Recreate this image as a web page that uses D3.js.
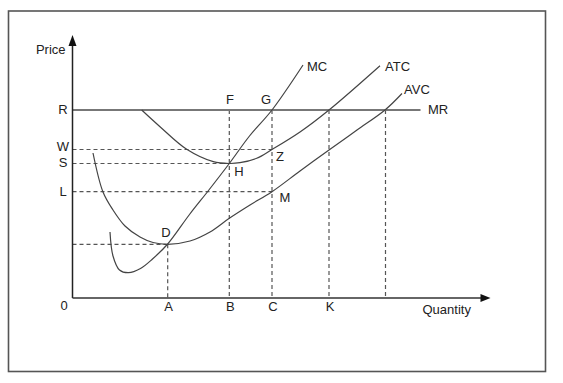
<!DOCTYPE html>
<html>
<head>
<meta charset="utf-8">
<script src="https://cdn.jsdelivr.net/npm/d3@7"></script>
<style>
  body { margin: 0; background: #fff; }
  text { font-family: "Liberation Sans", Arial, sans-serif; fill: #222; }
</style>
</head>
<body>
<svg id="chart" width="563" height="383"></svg>
<script>
// values (quantity / price units)
const qTicks = [
  { label: "A", q: 95.2 },
  { label: "B", q: 156.8 },
  { label: "C", q: 199.5 },
  { label: "K", q: 256.5 },
  { label: "", q: 313 },
];
const pTicks = [
  { label: "R", p: 188 },
  { label: "W", p: 148.5 },
  { label: "S", p: 134.5 },
  { label: "L", p: 106.3 },
  { label: "", p: 53.7 },
];
const mcPoints = [
  [37.5, 66], [40.5, 42], [47, 28], [56, 25.3], [68, 29.5], [80, 39],
  [95.2, 54], [117, 83.5], [136, 107.5], [156.8, 134.5], [177, 162],
  [199.5, 188], [230.5, 233],
];
const avcPoints = [
  [20.5, 145], [30.5, 106], [40.5, 88], [52.5, 72], [67.5, 61], [80.5, 55.5],
  [95.2, 53.7], [117.5, 57], [137.5, 66], [156.8, 79.7], [177.5, 93],
  [199.5, 106.3], [227.5, 127], [256.5, 148], [284.5, 168], [312.5, 188],
  [329.5, 204.5],
];
const atcPoints = [
  [69.2, 188], [87.5, 171.3], [114.2, 148.7], [140.8, 136.3], [156.8, 134.5],
  [167.5, 135.3], [184.2, 139.7], [199.5, 148.5], [227.5, 166], [256.5, 188],
  [307.5, 232.3],
];
const mrPrice = 188;
const mrEnd = 348;
const pointLabels = [
  { text: "D", q: 93.5, p: 64 },
  { text: "F", q: 157.5, p: 197 },
  { text: "G", q: 193.5, p: 197 },
  { text: "Z", q: 207.5, p: 140 },
  { text: "H", q: 166.5, p: 125 },
  { text: "M", q: 212.5, p: 99 },
];
const curveLabels = [
  { text: "MC", q: 234.5, p: 230 },
  { text: "ATC", q: 312.5, p: 230 },
  { text: "AVC", q: 331.5, p: 207 },
  { text: "MR", q: 355.5, p: 187 },
];

const svg = d3.select("#chart");
const x = d3.scaleLinear().domain([0, 420]).range([72.5, 492.5]);
const y = d3.scaleLinear().domain([0, 263]).range([298, 35]);

// frame
svg.append("rect")
  .attr("x", 8.5).attr("y", 11)
  .attr("width", 537).attr("height", 360.5)
  .attr("fill", "none")
  .attr("stroke", "#555")
  .attr("stroke-width", 1.6);

const dash = "4,3";
const dashColor = "#555";

// dashed guides
svg.selectAll(".vguide")
  .data(qTicks)
  .join("line")
  .attr("class", "vguide")
  .attr("x1", (d) => x(d.q)).attr("x2", (d) => x(d.q))
  .attr("y1", (d) => (d.label === "A" ? y(53.7) : y(mrPrice)))
  .attr("y2", y(0))
  .attr("stroke", dashColor)
  .attr("stroke-width", 1.2)
  .attr("stroke-dasharray", dash);

const hEnds = { R: null, W: 199.5, S: 156.8, L: 199.5, "": 95.2 };
svg.selectAll(".hguide")
  .data(pTicks.filter((d) => d.label !== "R"))
  .join("line")
  .attr("class", "hguide")
  .attr("x1", x(0)).attr("x2", (d) => x(hEnds[d.label]))
  .attr("y1", (d) => y(d.p)).attr("y2", (d) => y(d.p))
  .attr("stroke", dashColor)
  .attr("stroke-width", 1.2)
  .attr("stroke-dasharray", dash);

// MR line
svg.append("line")
  .attr("x1", x(0)).attr("x2", x(mrEnd))
  .attr("y1", y(mrPrice)).attr("y2", y(mrPrice))
  .attr("stroke", "#777")
  .attr("stroke-width", 2);

// cost curves
const line = d3.line()
  .x((d) => x(d[0]))
  .y((d) => y(d[1]))
  .curve(d3.curveCatmullRom.alpha(0.5));

[mcPoints, avcPoints, atcPoints].forEach((pts) => {
  svg.append("path")
    .attr("d", line(pts))
    .attr("fill", "none")
    .attr("stroke", "#444")
    .attr("stroke-width", 1.2);
});

// axes
svg.append("line")
  .attr("x1", x(0)).attr("x2", x(0))
  .attr("y1", y(0)).attr("y2", y(258))
  .attr("stroke", "#222").attr("stroke-width", 1.5);
svg.append("path")
  .attr("d", `M${x(0)},${y(263)} L${x(0) - 4},${y(252)} L${x(0) + 4},${y(252)} Z`)
  .attr("fill", "#111");
svg.append("line")
  .attr("x1", x(0)).attr("x2", x(410))
  .attr("y1", y(0)).attr("y2", y(0))
  .attr("stroke", "#333").attr("stroke-width", 1.5);
svg.append("path")
  .attr("d", `M${x(418)},${y(0)} L${x(408)},${y(0) - 4} L${x(408)},${y(0) + 4} Z`)
  .attr("fill", "#111");

// axis labels
svg.append("text")
  .attr("x", x(0) - 7).attr("y", y(247))
  .attr("text-anchor", "end")
  .attr("dominant-baseline", "middle")
  .style("font-size", "13px")
  .text("Price");
svg.append("text")
  .attr("x", x(350)).attr("y", y(-13))
  .attr("dominant-baseline", "middle")
  .style("font-size", "13px")
  .text("Quantity");

svg.selectAll(".ptick")
  .data(pTicks.filter((d) => d.label))
  .join("text")
  .attr("class", "ptick")
  .attr("x", x(-9.5))
  .attr("y", (d) => y(d.p) + (d.label === "W" ? -1.5 : 0.5))
  .attr("text-anchor", "middle")
  .attr("dominant-baseline", "middle")
  .style("font-size", "13px")
  .text((d) => d.label);
svg.append("text")
  .attr("x", x(-8.5)).attr("y", y(-8.5))
  .attr("text-anchor", "middle")
  .attr("dominant-baseline", "middle")
  .style("font-size", "13px")
  .text("0");

svg.selectAll(".qtick")
  .data(qTicks.filter((d) => d.label))
  .join("text")
  .attr("class", "qtick")
  .attr("x", (d) => x(d.q) + 1)
  .attr("y", y(-9.5))
  .attr("text-anchor", "middle")
  .attr("dominant-baseline", "middle")
  .style("font-size", "13px")
  .text((d) => d.label);

svg.selectAll(".plabel")
  .data(pointLabels)
  .join("text")
  .attr("class", "plabel")
  .attr("x", (d) => x(d.q))
  .attr("y", (d) => y(d.p))
  .attr("text-anchor", "middle")
  .attr("dominant-baseline", "middle")
  .style("font-size", "13px")
  .text((d) => d.text);

svg.selectAll(".clabel")
  .data(curveLabels)
  .join("text")
  .attr("class", "clabel")
  .attr("x", (d) => x(d.q))
  .attr("y", (d) => y(d.p))
  .attr("dominant-baseline", "middle")
  .style("font-size", "13px")
  .text((d) => d.text);
</script>
</body>
</html>
